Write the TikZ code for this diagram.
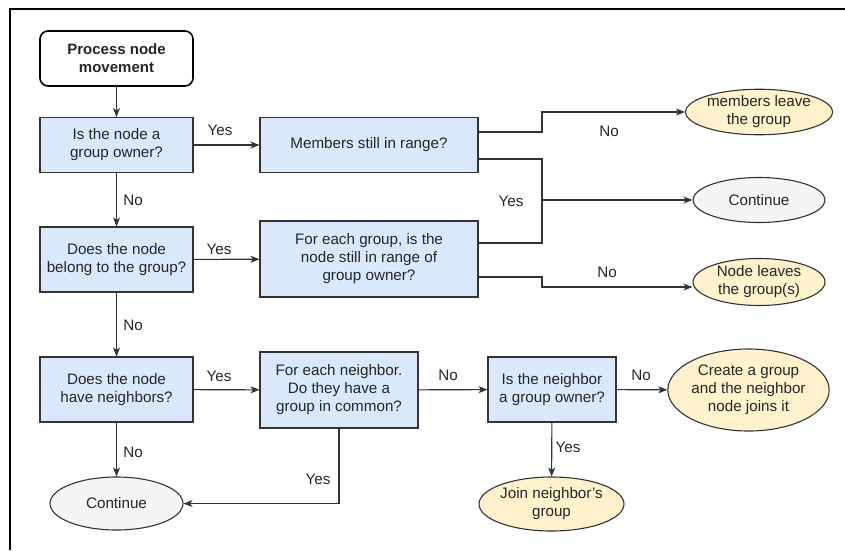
\documentclass[tikz,border=0pt]{standalone}
\usepackage{fontspec}
\setmainfont{Liberation Sans}
\usetikzlibrary{arrows.meta,calc,shapes.geometric}

\definecolor{qfill}{HTML}{DAE8FC}
\definecolor{endfill}{HTML}{FFF2CC}
\definecolor{contfill}{HTML}{F5F5F5}
\definecolor{edge}{HTML}{333333}

\tikzset{
  txt/.style={font=\fontsize{15.2}{18}\selectfont, text=black!85},
  startbox/.style={txt, draw=black, line width=1.6pt, rounded corners=8pt, fill=white,
    minimum width=153pt, minimum height=55pt, align=center, inner sep=0pt,
    font=\fontsize{15}{18}\selectfont\bfseries},
  qbox/.style={txt, draw=edge, line width=1.1pt, fill=qfill, align=center, inner sep=0pt},
  endoval/.style={txt, ellipse, draw=edge, line width=1.1pt, fill=endfill, align=center, inner sep=0pt},
  contoval/.style={txt, ellipse, draw=edge, line width=1.1pt, fill=contfill, align=center, inner sep=0pt},
  arr/.style={draw=edge, line width=1.1pt, -{Stealth[length=9pt,width=7pt,inset=2.5pt]}},
  seg/.style={draw=edge, line width=1.1pt},
  lbl/.style={txt}
}

\begin{document}
\begin{tikzpicture}[x=1pt,y=-1pt]
  \useasboundingbox (0,0) rectangle (845,550);
  % outer frame (top and left edges)
  \draw[line width=1.2pt] (10,550) -- (10,9) -- (845,9);

  % left column
  \node[startbox] (start) at (116.5,58.5) {Process node\\movement};
  \node[qbox, minimum width=153pt, minimum height=55pt] (owner) at (116.5,145) {Is the node a\\group owner?};
  \node[qbox, minimum width=153pt, minimum height=65pt] (belong) at (116.5,259.5) {Does the node\\belong to the group?};
  \node[qbox, minimum width=153pt, minimum height=65pt] (neigh) at (116.5,389.5) {Does the node\\have neighbors?};
  \node[contoval, minimum width=133pt, minimum height=53pt] (contL) at (116.5,503.5) {Continue};

  % middle column
  \node[qbox, minimum width=218pt, minimum height=55pt] (inrange) at (369,145) {Members still in range?};
  \node[qbox, minimum width=218pt, minimum height=76pt] (eachgrp) at (369,259) {For each group, is the\\node still in range of\\group owner?};
  \node[qbox, minimum width=158pt, minimum height=76pt] (eachnb) at (339,390) {For each neighbor.\\Do they have a\\group in common?};
  \node[qbox, minimum width=128pt, minimum height=65pt] (nbowner) at (552,389.5) {Is the neighbor\\a group owner?};
  \node[endoval, minimum width=131pt, minimum height=54pt] (join) at (551.5,504) {Join neighbor's\\group};

  % right column
  \node[endoval, minimum width=132pt, minimum height=40pt] (leave) at (759,112) {members leave\\the group};
  \node[contoval, minimum width=132pt, minimum height=45pt] (contR) at (759,200) {Continue};
  \node[endoval, minimum width=132pt, minimum height=47pt] (nodeleave) at (759,282) {Node leaves\\the group(s)};
  \node[endoval, minimum width=153pt, minimum height=82pt] (create) at (748.5,390) {Create a group\\and the neighbor\\node joins it};

  % junction points of the elbow connectors
  \coordinate (j1) at (542,112);
  \coordinate (j2) at (542,200);
  \coordinate (j3) at (542,287);

  % connectors
  \draw[arr] (start) -- (owner);
  \draw[arr] (owner) -- (inrange);
  \draw[arr] (owner) -- (belong);
  \draw[arr] (belong) -- (eachgrp);
  \draw[arr] (belong) -- (neigh);
  \draw[arr] (neigh) -- (eachnb);
  \draw[arr] (neigh) -- (contL);
  \draw[arr] (eachnb.south) |- (contL.east);
  \draw[arr] (eachnb) -- (nbowner);
  \draw[arr] (nbowner) -- (create);
  \draw[arr] (nbowner) -- (join);

  \draw[arr] ($(inrange.east)+(0,-13)$) -| (j1) -- (leave.west);
  \draw[seg] ($(inrange.east)+(0,14)$) -| (j2);
  \draw[seg] ($(eachgrp.east)+(0,-16)$) -| (j2);
  \draw[arr] (j2) -- (contR.west);
  \draw[arr] ($(eachgrp.east)+(0,18)$) -| (j3) -- (j3 -| nodeleave.west);

  % edge labels
  \node[lbl] (y1) at (220,130) {Yes};
  \node[lbl] (n1) at (133,200) {No};
  \node[lbl] (y2) at (219,249) {Yes};
  \node[lbl] (n2) at (133,325) {No};
  \node[lbl] (y3) at (219,376) {Yes};
  \node[lbl] (n3) at (133,452) {No};
  \node[lbl] (y4) at (318,479) {Yes};
  \node[lbl] (n4) at (448,375) {No};
  \node[lbl] (n5) at (641,375) {No};
  \node[lbl] (y5) at (568,447) {Yes};
  \node[lbl] (n6) at (609,131) {No};
  \node[lbl] (y6) at (511,201) {Yes};
  \node[lbl] (n7) at (607,272) {No};
\end{tikzpicture}
\end{document}
